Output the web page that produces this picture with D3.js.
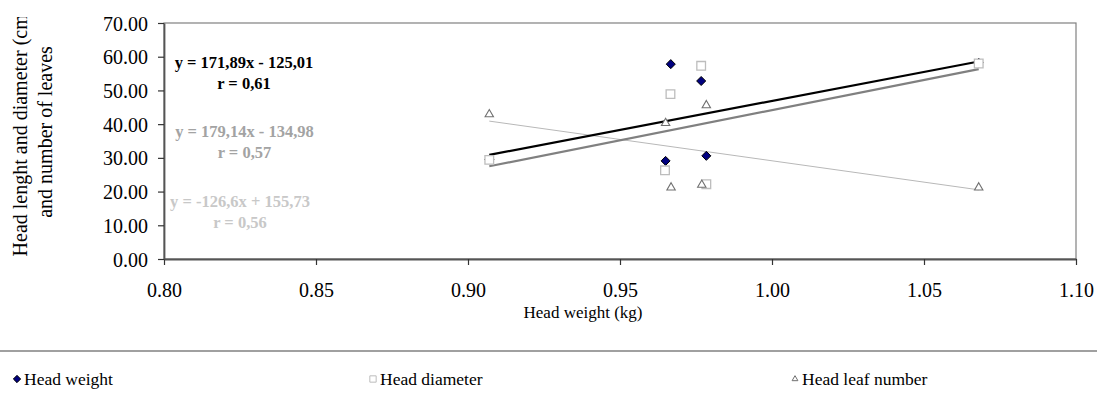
<!DOCTYPE html>
<html>
<head>
<meta charset="utf-8">
<script src="https://cdn.jsdelivr.net/npm/d3@7"></script>
<style>
  body { margin: 0; background: #fff; }
  svg { display: block; font-family: "Liberation Serif", "Times New Roman", serif; }
</style>
</head>
<body>
<svg id="chart" width="1097" height="397"></svg>
<script>
// values
const headWeightX = [0.907, 0.9667, 0.9767, 0.965, 0.9784, 1.068];
const headWeightY = [29.5, 57.8, 52.8, 29.1, 30.6, 58.2];
const diameterX = [0.907, 0.9666, 0.9767, 0.9648, 0.9784, 1.068];
const diameterY = [29.4, 48.9, 57.3, 26.3, 22.2, 58.0];
const leafX = [0.907, 0.965, 0.9784, 0.9668, 0.9769, 1.068];
const leafY = [42.9, 40.3, 45.6, 21.2, 22.0, 21.2];
const trends = [
  { slope: 171.89, icpt: -125.01, eq: 'y = 171,89x - 125,01', r: 'r = 0,61', color: '#000000', width: 2.2, textColor: '#000000' },
  { slope: 179.14, icpt: -134.98, eq: 'y = 179,14x - 134,98', r: 'r = 0,57', color: '#808080', width: 2.2, textColor: '#a3a3a3' },
  { slope: -126.6, icpt: 155.73, eq: 'y = -126,6x + 155,73', r: 'r = 0,56', color: '#b8b8b8', width: 1, textColor: '#c8c8c8' }
];
const xTicks = [0.80, 0.85, 0.90, 0.95, 1.00, 1.05, 1.10];
const yTicks = [0, 10, 20, 30, 40, 50, 60, 70];
const titleLines = ['Head lenght and diameter (cm)', 'and number of leaves'];
const legendNames = ['Head weight', 'Head diameter', 'Head leaf number'];

const svg = d3.select('#chart');
const plotL = 164, plotR = 1076, plotT = 23, plotB = 259;

const x = d3.scaleLinear().domain([0.8, 1.1]).range([plotL, plotR]);
const y = d3.scaleLinear().domain([0, 70]).range([plotB, plotT]);

// plot frame
svg.append('rect')
  .attr('x', plotL).attr('y', plotT)
  .attr('width', plotR - plotL).attr('height', plotB - plotT)
  .attr('fill', 'none').attr('stroke', '#808080').attr('stroke-width', 1.2);

// axes
const xAxis = svg.append('g').attr('transform', `translate(0,${plotB})`)
  .call(d3.axisBottom(x).tickValues(xTicks).tickFormat(d3.format('.2f')).tickSizeInner(6).tickSizeOuter(0));
const yAxis = svg.append('g').attr('transform', `translate(${plotL},0)`)
  .call(d3.axisLeft(y).tickValues(yTicks).tickFormat(d3.format('.2f')).tickSizeInner(6).tickSizeOuter(0));
[xAxis, yAxis].forEach(a => {
  a.select('.domain').attr('stroke', '#555').attr('stroke-width', 1.8);
  a.selectAll('.tick line').attr('stroke', '#333').attr('stroke-width', 1.2);
  a.selectAll('.tick text').attr('font-family', '"Liberation Serif", serif').attr('font-size', 20).attr('fill', '#000');
});
xAxis.selectAll('.tick text').attr('y', 38).attr('dy', 0);
yAxis.selectAll('.tick text').attr('x', -16).attr('dy', '0.35em');

// axis titles
svg.append('text')
  .attr('x', 583).attr('y', 318)
  .attr('text-anchor', 'middle').attr('font-size', 17)
  .text('Head weight (kg)');

// the y title runs off the top in the original, so clip it the same way
svg.append('clipPath').attr('id', 'ytitle-clip')
  .append('rect').attr('x', 0).attr('y', 17).attr('width', 80).attr('height', 380);
svg.append('g').attr('clip-path', 'url(#ytitle-clip)')
  .selectAll('text')
  .data(titleLines)
  .join('text')
  .attr('transform', (d, i) => `translate(${27 + i * 25},132) rotate(-90)`)
  .attr('text-anchor', 'middle').attr('font-size', 20)
  .text(d => d);

// trend lines
const xMin = 0.907, xMax = 1.068;
const line = d3.line().x(d => x(d[0])).y(d => y(d[1]));
svg.append('g').selectAll('path')
  .data(trends.slice().reverse())
  .join('path')
  .attr('d', t => line([[xMin, t.slope * xMin + t.icpt], [xMax, t.slope * xMax + t.icpt]]))
  .attr('fill', 'none')
  .attr('stroke', t => t.color)
  .attr('stroke-width', t => t.width);

// markers
const diamond = d3.symbol().type(d3.symbolDiamond2).size(52);
const square = d3.symbol().type(d3.symbolSquare).size(75);
const triangle = d3.symbol().type(d3.symbolTriangle2).size(50);

svg.append('g').selectAll('path')
  .data(d3.zip(headWeightX, headWeightY))
  .join('path')
  .attr('transform', d => `translate(${x(d[0])},${y(d[1])})`)
  .attr('d', diamond)
  .attr('fill', '#000080').attr('stroke', '#000').attr('stroke-width', 1);

svg.append('g').selectAll('path')
  .data(d3.zip(diameterX, diameterY))
  .join('path')
  .attr('transform', d => `translate(${x(d[0])},${y(d[1])})`)
  .attr('d', square)
  .attr('fill', '#fff').attr('stroke', '#bdbdbd').attr('stroke-width', 1.3);

svg.append('g').selectAll('path')
  .data(d3.zip(leafX, leafY))
  .join('path')
  .attr('transform', d => `translate(${x(d[0])},${y(d[1])})`)
  .attr('d', triangle)
  .attr('fill', '#fff').attr('stroke', '#707070').attr('stroke-width', 1.1);

// equation labels
const eqPos = [[244, 62.5], [244.5, 131], [240, 201]];
trends.forEach((t, i) => {
  const g = svg.append('g').attr('font-weight', 'bold').attr('font-size', 16.5)
    .attr('fill', t.textColor).attr('text-anchor', 'middle');
  g.append('text').attr('x', eqPos[i][0]).attr('y', eqPos[i][1]).attr('dy', '0.35em').text(t.eq);
  g.append('text').attr('x', eqPos[i][0]).attr('y', eqPos[i][1] + 21).attr('dy', '0.35em').text(t.r);
});

// legend
svg.append('line')
  .attr('x1', 0).attr('x2', 1097).attr('y1', 351).attr('y2', 351)
  .attr('stroke', '#808080').attr('stroke-width', 1.4);
const legendX = [17, 373, 795];
const legendSym = [
  { sym: d3.symbol().type(d3.symbolDiamond2).size(34), fill: '#000080', stroke: '#000' },
  { sym: d3.symbol().type(d3.symbolSquare).size(40), fill: '#fff', stroke: '#bdbdbd' },
  { sym: d3.symbol().type(d3.symbolTriangle2).size(24), fill: '#fff', stroke: '#707070' }
];
const legend = svg.append('g').selectAll('g')
  .data(legendNames)
  .join('g')
  .attr('transform', (d, i) => `translate(${legendX[i]},379)`);
legend.append('path')
  .attr('d', (d, i) => legendSym[i].sym())
  .attr('fill', (d, i) => legendSym[i].fill)
  .attr('stroke', (d, i) => legendSym[i].stroke)
  .attr('stroke-width', 1);
legend.append('text')
  .attr('x', 7).attr('dy', '0.35em')
  .attr('font-size', 17.5)
  .text(d => d);
</script>
</body>
</html>
